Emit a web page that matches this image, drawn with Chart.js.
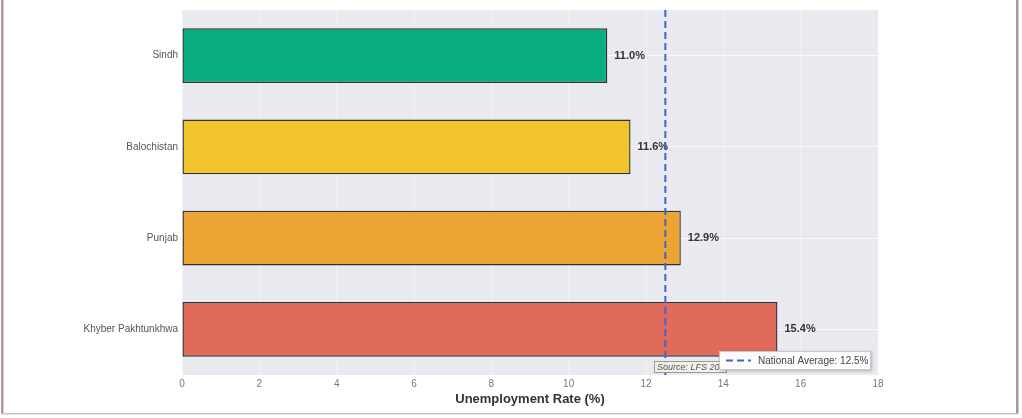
<!DOCTYPE html>
<html>
<head>
<meta charset="utf-8">
<script src="https://cdn.jsdelivr.net/npm/chart.js@4.4.0/dist/chart.umd.min.js"></script>
<style>
    html, body { margin: 0; padding: 0; background: #fff; }
    #wrap { position: relative; width: 1022px; height: 418px; }
</style>
</head>
<body>
<div id="wrap"><canvas id="rateChart" width="1022" height="418"></canvas></div>
<script>
// ========== DATA ==========
const regions = ['Sindh', 'Balochistan', 'Punjab', 'Khyber Pakhtunkhwa'];
const rates = [11.0, 11.6, 12.9, 15.4];
const barColors = ['#0aae7e', '#f0c42a', '#eca534', '#e06b5a'];
const nationalAverage = 12.5;
const xMax = 18;
const xStep = 2;
const legendLabel = 'National Average: 12.5%';
const sourceLabel = 'Source: LFS 2020-21';

const FONT = "'Liberation Sans', Arial, sans-serif";

// ========== PLUGINS ==========

// plot background + outer frame
const backdrop = {
    id: 'backdrop',
    beforeDraw(chart) {
        const { ctx, chartArea: a } = chart;
        ctx.save();
        ctx.fillStyle = '#e9eaef';
        ctx.fillRect(a.left, a.top, a.right - a.left, a.bottom - a.top);
        ctx.restore();
    },
    afterDraw(chart) {
        const ctx = chart.ctx;
        ctx.save();
        ctx.fillStyle = '#a89a92';
        ctx.fillRect(1, 0, 2.5, 414);
        ctx.fillRect(1016, 0, 2.5, 414);
        ctx.fillStyle = '#c9c3c3';
        ctx.fillRect(1, 413, 1017, 1.5);
        ctx.restore();
    }
};

// value labels, national average line, source note, legend
const overlay = {
    id: 'overlay',
    afterDatasetsDraw(chart) {
        const { ctx, chartArea: a } = chart;
        const meta = chart.getDatasetMeta(0);
        ctx.save();

        // value labels
        ctx.font = 'bold 11px ' + FONT;
        ctx.fillStyle = '#333';
        ctx.textBaseline = 'middle';
        ctx.textAlign = 'left';
        meta.data.forEach((bar, i) => {
            ctx.fillText(rates[i].toFixed(1) + '%', bar.x + 7, bar.y);
        });

        // national average line
        const x = chart.scales.x.getPixelForValue(nationalAverage);
        ctx.strokeStyle = '#4463c9';
        ctx.lineWidth = 2;
        ctx.setLineDash([7, 4]);
        ctx.beginPath();
        ctx.moveTo(x, a.top);
        ctx.lineTo(x, a.bottom);
        ctx.stroke();
        ctx.setLineDash([]);

        // source note (mostly hidden under the legend)
        const sx = 654, sy = 361, sw = 72, sh = 11;
        ctx.fillStyle = 'rgba(245, 241, 230, 0.9)';
        ctx.strokeStyle = '#999';
        ctx.lineWidth = 1;
        ctx.fillRect(sx, sy, sw, sh);
        ctx.strokeRect(sx + 0.5, sy + 0.5, sw, sh);
        ctx.fillStyle = '#555';
        ctx.font = 'italic 9px ' + FONT;
        ctx.fillText(sourceLabel, sx + 3, sy + 6);

        // legend box
        const lx = 719, ly = 351, lw = 152, lh = 19;
        ctx.shadowColor = 'rgba(0,0,0,0.25)';
        ctx.shadowBlur = 3;
        ctx.shadowOffsetX = 1;
        ctx.shadowOffsetY = 1;
        ctx.fillStyle = 'rgba(255,255,255,0.97)';
        ctx.fillRect(lx, ly, lw, lh);
        ctx.shadowColor = 'transparent';
        ctx.strokeStyle = '#c8c8cc';
        ctx.strokeRect(lx + 0.5, ly + 0.5, lw - 1, lh - 1);

        ctx.strokeStyle = '#4463c9';
        ctx.lineWidth = 2;
        ctx.setLineDash([7, 4]);
        ctx.beginPath();
        ctx.moveTo(lx + 7, ly + lh / 2);
        ctx.lineTo(lx + 32, ly + lh / 2);
        ctx.stroke();
        ctx.setLineDash([]);

        ctx.fillStyle = '#444';
        ctx.font = '10px ' + FONT;
        ctx.fillText(legendLabel, lx + 39, ly + lh / 2 + 0.5);

        ctx.restore();
    }
};

// ========== CHART ==========

Chart.defaults.font.family = FONT;

new Chart(document.getElementById('rateChart'), {
    type: 'bar',
    data: {
        labels: regions,
        datasets: [{
            data: rates,
            backgroundColor: barColors,
            borderColor: '#333',
            borderWidth: 1.4,
            borderSkipped: false,
            barPercentage: 0.6,
            categoryPercentage: 1
        }]
    },
    options: {
        indexAxis: 'y',
        responsive: false,
        animation: false,
        events: [],
        layout: { padding: { top: 10, right: 144, left: 0, bottom: 11 } },
        plugins: {
            legend: { display: false },
            tooltip: { enabled: false }
        },
        scales: {
            x: {
                min: 0,
                max: xMax,
                ticks: { stepSize: xStep, color: '#777', font: { size: 10 }, padding: 3 },
                grid: { color: 'rgba(255,255,255,0.35)', lineWidth: 1, drawTicks: false },
                border: { display: false },
                title: {
                    display: true,
                    text: 'Unemployment Rate (%)',
                    color: '#333',
                    font: { size: 13, weight: 'bold' },
                    padding: { top: 1, bottom: 0 }
                },
                afterFit(scale) { scale.height = 32; }
            },
            y: {
                ticks: { color: '#555', font: { size: 10 }, padding: 4 },
                grid: { color: 'rgba(255,255,255,0.8)', lineWidth: 1, offset: false, drawTicks: false },
                border: { display: false },
                afterFit(scale) { scale.width = 182; }
            }
        }
    },
    plugins: [backdrop, overlay]
});
</script>
</body>
</html>
